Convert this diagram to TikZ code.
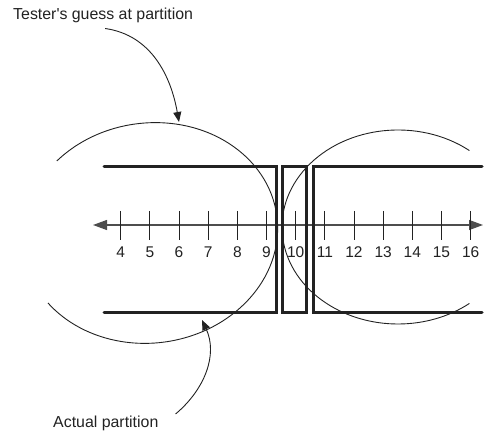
\documentclass[tikz,border=0pt]{standalone}
\usepackage{fontspec}
\setmainfont{Liberation Sans}[Ligatures=TeXOff]
\usetikzlibrary{arrows.meta,calc}
\definecolor{ink}{HTML}{222222}
\definecolor{axisc}{HTML}{4D4D4D}
\tikzset{
  wall/.style={draw=ink,line width=3pt,line cap=round,line join=miter},
  blob/.style={draw=ink,line width=0.9pt},
  axisline/.style={draw=axisc,line width=1.2pt,
    {Triangle[length=14pt,width=10pt]}-{Triangle[length=14pt,width=10pt]}},
  tickmark/.style={draw=ink,line width=0.8pt},
  num/.style={font=\fontsize{15.5}{18}\selectfont,text=ink,inner sep=0pt},
  caption/.style={font=\fontsize{15.9}{19}\selectfont,text=ink,inner sep=3pt},
  pointer/.style={draw=ink,line width=0.9pt,-{Triangle[length=10pt,width=8pt]}},
}

\begin{document}
\begin{tikzpicture}[x=1pt,y=1pt]
  \useasboundingbox (0,0) rectangle (484,431);
  % the number line
  \coordinate (lend) at (93,206);
  \coordinate (rend) at (483,206);
  \draw[axisline] (lend) -- (rend);
  \foreach \k in {4,...,16}{
    \coordinate (t\k) at ({120.7+29.16*(\k-4)},206);
    \draw[tickmark] ($(t\k)+(0,14)$) -- ($(t\k)+(0,-15)$);
    \node[num] (n\k) at ($(t\k)+(0,-27)$) {\k};
  }
  % actual partition: the three walls
  \draw[wall] (104,264.3) -- (276.7,264.3) -- (276.7,118) -- (104,118);
  \draw[wall] (282.7,264.3) rectangle (306.7,118);
  \draw[wall] (482,264.3) -- (313.3,264.3) -- (313.3,118) -- (482,118);
  % tester's guess: two open ellipses
  \begin{scope}[shift={(150,198)},rotate=8]
    \draw[blob] (130:128pt and 110pt)
      arc[start angle=130,end angle=-150,x radius=128pt,y radius=110pt];
  \end{scope}
  \begin{scope}[shift={(398,204)}]
    \draw[blob] (52:116pt and 97pt)
      arc[start angle=52,end angle=308,x radius=116pt,y radius=97pt];
  \end{scope}
  % labels and pointers
  \node[caption,anchor=base west] (tester) at (10,411) {Tester's guess at partition};
  \node[caption,anchor=base west] (actual) at (50,3.3) {Actual partition};
  \coordinate (guesstop) at (179,309);
  \coordinate (wallhit) at (202,111);
  \draw[pointer] ($(tester.south)+(2,-2)$) to[out=-8,in=100] (guesstop);
  \draw[pointer] ($(actual.north east)+(14,-1)$) to[out=40,in=-65] (wallhit);
\end{tikzpicture}
\end{document}
